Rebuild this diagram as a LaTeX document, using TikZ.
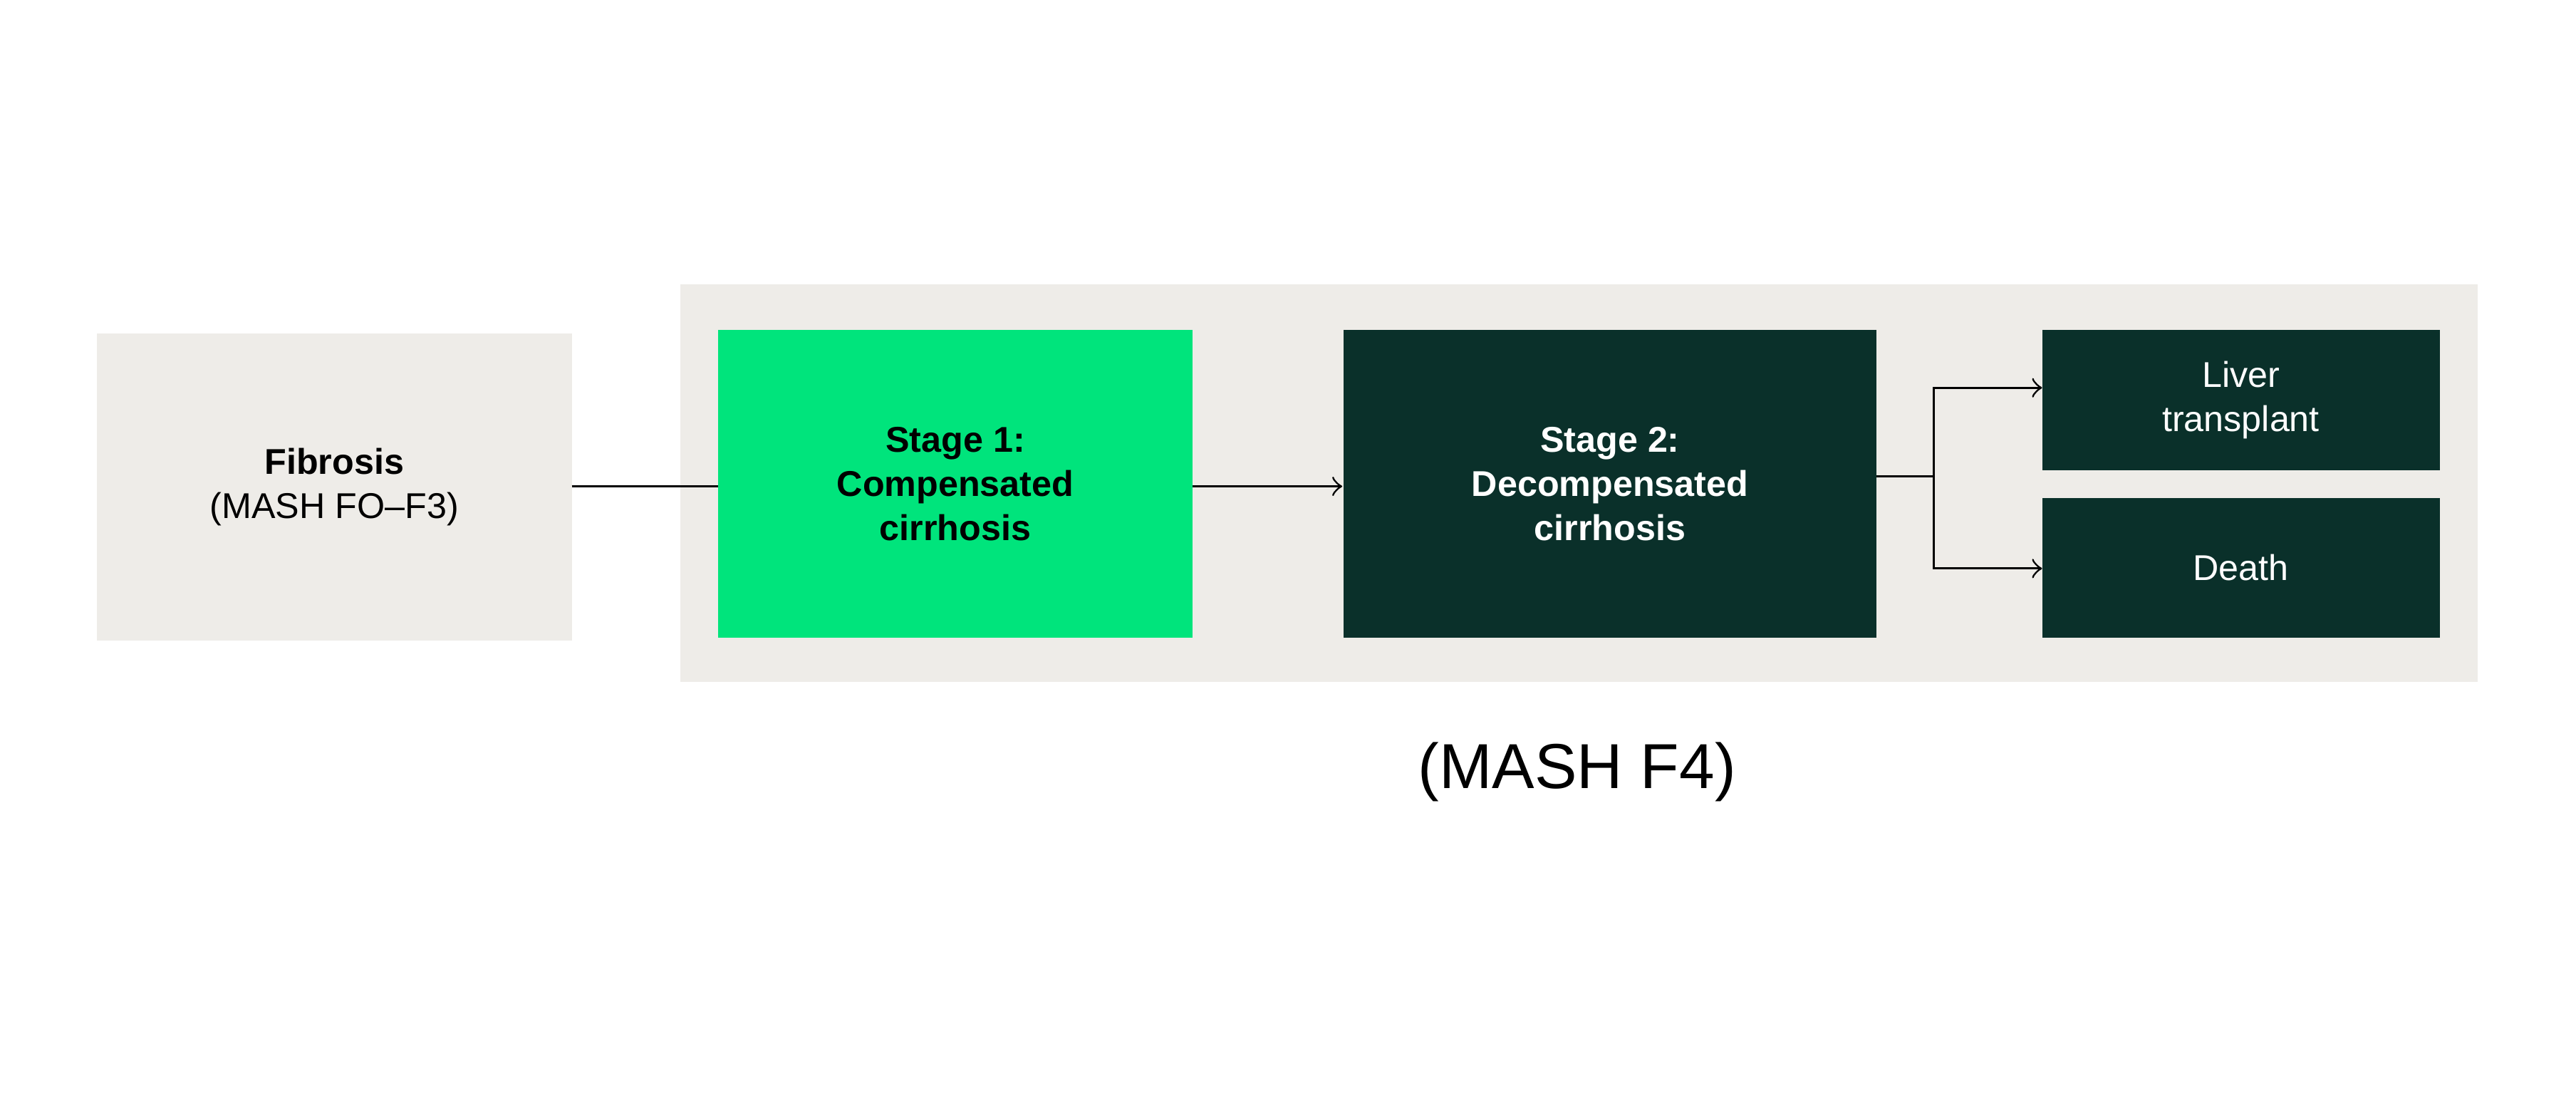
\documentclass[tikz,border=0pt]{standalone}
\usepackage{fontspec}
\setmainfont{Liberation Sans}
\usetikzlibrary{positioning}
\usetikzlibrary{arrows}
\definecolor{paleGray}{HTML}{EEECE8}
\definecolor{brightGreen}{HTML}{00E47C}
\definecolor{deepGreen}{HTML}{0A302A}
\tikzset{
  stage/.style={inner sep=0pt,align=center,font=\fontsize{6.2}{7.6}\selectfont},
  flow/.style={line width=0.35pt,->,>=to}
}
\begin{document}
\begin{tikzpicture}[x=0.01cm,y=-0.01cm]
\useasboundingbox (0,0) rectangle (1568,671);
\fill[paleGray] (414,173) rectangle (1508,415);
\fill[paleGray] (59,203) rectangle (348,390);
\node[stage] (fibrosis) at (203.5,296.5) {\textbf{Fibrosis}\\(MASH FO--F3)};
\coordinate (fibR) at (348,296);
\fill[brightGreen] (437,201) rectangle (726,388);
\node[stage] (stageone) at (581.5,294.5) {\textbf{Stage 1:}\\\textbf{Compensated}\\\textbf{cirrhosis}};
\coordinate (oneL) at (437,296);
\coordinate (oneR) at (726,296);
\fill[deepGreen] (818,201) rectangle (1142,388);
\node[stage,text=white] (stagetwo) at (980,294.5) {\textbf{Stage 2:}\\\textbf{Decompensated}\\\textbf{cirrhosis}};
\coordinate (twoL) at (817,296);
\coordinate (twoR) at (1142,290);
\fill[deepGreen] (1243,201) rectangle (1485,286);
\node[stage,text=white] (liver) at (1364,243.5) {Liver\\transplant};
\fill[deepGreen] (1243,303) rectangle (1485,388);
\node[stage,text=white] (death) at (1364,345.5) {Death};
\coordinate (split) at (1177,290);
\coordinate (liverL) at (1243,236);
\coordinate (deathL) at (1243,346);
\node[inner sep=0pt,font=\fontsize{11}{13}\selectfont] (mash) at (960,470) {(MASH F4)};
% connectors
\draw[line width=0.35pt] (fibR) -- (oneL);
\draw[flow] (oneR) -- (twoL);
\draw[line width=0.35pt] (twoR) -- (split);
\draw[flow] (split) |- (liverL);
\draw[flow] (split) |- (deathL);
\end{tikzpicture}
\end{document}
